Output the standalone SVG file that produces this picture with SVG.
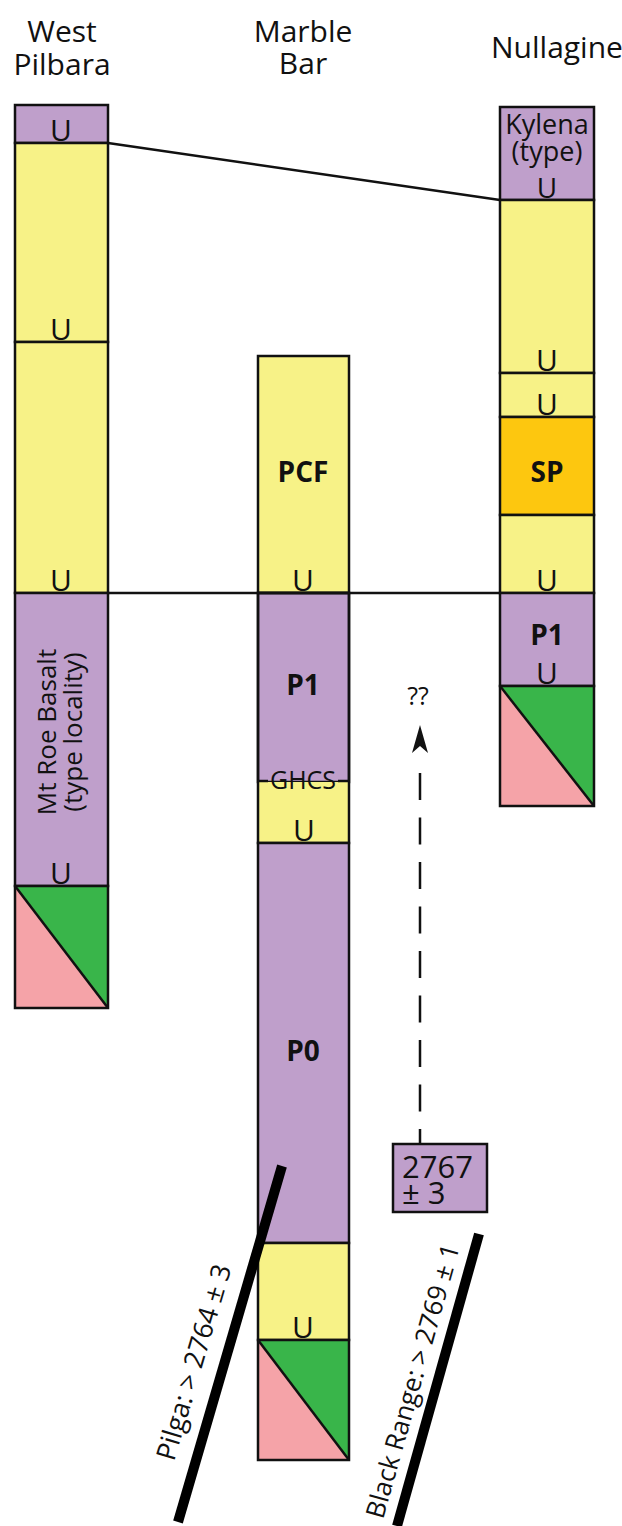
<svg xmlns="http://www.w3.org/2000/svg" width="622" height="1526" viewBox="0 0 622 1526">
<style>
.pu{fill:#bf9fcb;stroke:#111;stroke-width:2.5}
.ye{fill:#f7f287;stroke:#111;stroke-width:2.5}
.or{fill:#fdc70f;stroke:#111;stroke-width:2.5}
.gr{fill:#39b54a}
.pk{fill:#f5a3a8}
.ol{fill:none;stroke:#111;stroke-width:2.5}
text{font-family:"Open Sans","Noto Sans",sans-serif;fill:#111}
.h{font-size:30px;text-anchor:middle}
.u{font-size:30px;text-anchor:middle}
.b{font-size:28px;font-weight:bold;text-anchor:middle}
.m{text-anchor:middle}
</style>
<g id="headers">
<text class="h" x="62" y="42">West</text>
<text class="h" x="62" y="75">Pilbara</text>
<text class="h" x="303" y="42">Marble</text>
<text class="h" x="303" y="74">Bar</text>
<text class="h" x="557" y="58">Nullagine</text>
</g>
<g id="west-pilbara">
<rect class="pu" x="15" y="105" width="93" height="38"/>
<text class="u" x="61" y="141">U</text>
<rect class="ye" x="15" y="143" width="93" height="199"/>
<text class="u" x="61" y="340">U</text>
<rect class="ye" x="15" y="342" width="93" height="251"/>
<text class="u" x="61" y="591">U</text>
<rect class="pu" x="15" y="593" width="93" height="293"/>
<text class="m" transform="translate(56,732) rotate(-90)" style="font-size:26px">Mt Roe Basalt</text>
<text class="m" transform="translate(82,732) rotate(-90)" style="font-size:26px">(type locality)</text>
<text class="u" x="61" y="884">U</text>
<polygon class="gr" points="15,886 108,886 108,1008"/>
<polygon class="pk" points="15,886 15,1008 108,1008"/>
<rect class="ol" x="15" y="886" width="93" height="122"/>
<line class="ol" x1="15" y1="886" x2="108" y2="1008"/>
</g>
<g id="marble-bar">
<rect class="ye" x="258" y="356" width="91" height="237"/>
<text class="b" x="303" y="482">PCF</text>
<text class="u" x="303" y="591">U</text>
<rect class="pu" x="258" y="593" width="91" height="189"/>
<text class="b" x="303" y="695">P1</text>
<rect x="258" y="782" width="91" height="61" fill="#f7f287"/>
<rect class="ol" x="258" y="593" width="91" height="250"/>
<line class="ol" x1="258" y1="781" x2="268" y2="781"/>
<line class="ol" x1="338" y1="781" x2="349" y2="781"/>
<text class="m" x="303" y="789" style="font-size:25px">GHCS</text>
<text class="u" x="304" y="841">U</text>
<rect class="pu" x="258" y="843" width="91" height="400"/>
<text class="b" x="303" y="1061">P0</text>
<rect class="ye" x="258" y="1243" width="91" height="97"/>
<text class="u" x="303" y="1338">U</text>
<polygon class="gr" points="258,1340 349,1340 349,1460"/>
<polygon class="pk" points="258,1340 258,1460 349,1460"/>
<rect class="ol" x="258" y="1340" width="91" height="120"/>
<line class="ol" x1="258" y1="1340" x2="349" y2="1460"/>
</g>
<g id="nullagine">
<rect class="pu" x="500" y="107" width="94" height="93"/>
<text class="m" x="547" y="134" style="font-size:27px">Kylena</text>
<text class="m" x="547" y="161" style="font-size:27px">(type)</text>
<text class="u" x="547" y="198" style="font-size:28px">U</text>
<rect class="ye" x="500" y="200" width="94" height="173"/>
<text class="u" x="547" y="371">U</text>
<rect class="ye" x="500" y="373" width="94" height="44"/>
<text class="u" x="547" y="415">U</text>
<rect class="or" x="500" y="417" width="94" height="98"/>
<text class="b" x="547" y="482">SP</text>
<rect class="ye" x="500" y="515" width="94" height="78"/>
<text class="u" x="547" y="591">U</text>
<rect class="pu" x="500" y="593" width="94" height="93"/>
<text class="b" x="547" y="645">P1</text>
<text class="u" x="547" y="684">U</text>
<polygon class="gr" points="500,686 594,686 594,806"/>
<polygon class="pk" points="500,686 500,806 594,806"/>
<rect class="ol" x="500" y="686" width="94" height="120"/>
<line class="ol" x1="500" y1="686" x2="594" y2="806"/>
</g>
<g id="age-box">
<rect class="pu" x="393" y="1144" width="94" height="68"/>
<text x="402" y="1178" style="font-size:31px">2767</text>
<text x="402" y="1204" style="font-size:31px">± 3</text>
</g>
<g id="connectors">
<line class="ol" x1="108" y1="143" x2="500" y2="200"/>
<line class="ol" x1="108" y1="593" x2="500" y2="593"/>
<line x1="420" y1="773" x2="420" y2="1144" stroke="#111" stroke-width="2.5" stroke-dasharray="27 17.5"/>
<polygon points="420,725 428,753 420,746 412,753" fill="#111"/>
<text class="m" x="418" y="705" style="font-size:25px">??</text>
<line x1="282" y1="1166" x2="178" y2="1522" stroke="#000" stroke-width="10"/>
<line x1="479" y1="1234" x2="397" y2="1526" stroke="#000" stroke-width="10"/>
<text transform="translate(174,1462) rotate(-73.5)" style="font-size:27px">Pilga: &gt; 2764 ± 3</text>
<text transform="translate(383,1520) rotate(-74.3)" style="font-size:26px">Black Range: &gt; 2769 ± 1</text>
</g>
</svg>
